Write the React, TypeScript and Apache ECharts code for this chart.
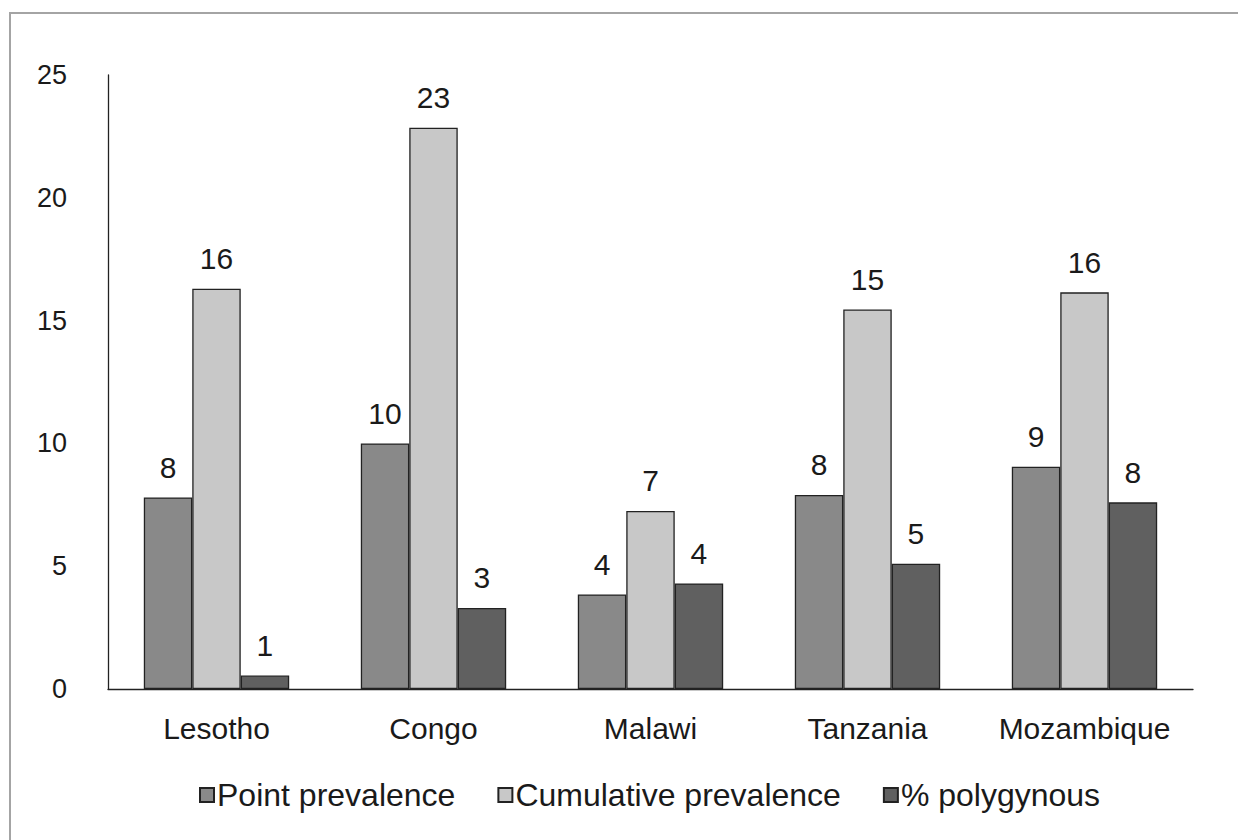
import React, { useEffect, useRef } from "react";
import * as echarts from "echarts";

const categories = ["Lesotho", "Congo", "Malawi", "Tanzania", "Mozambique"];
const pointPrevalence = [7.8, 10.0, 3.85, 7.9, 9.05];
const cumulativePrevalence = [16.3, 22.85, 7.25, 15.45, 16.15];
const polygynous = [0.55, 3.3, 4.3, 5.1, 7.6];
const seriesNames = ["Point prevalence", "Cumulative prevalence", "% polygynous"];
const yTicks = [0, 5, 10, 15, 20, 25];

const FONT = "'Liberation Sans', Arial, sans-serif";
const colors = ["#898989", "#c8c8c8", "#606060"];

export default function App() {
  const ref = useRef<HTMLDivElement>(null);
  useEffect(() => {
    document.body.style.margin = "0";
    const chart = echarts.init(ref.current!, null, { renderer: "svg" });
    const mk = (name: string, data: number[], color: string) => ({
      name,
      type: "bar",
      data,
      barGap: "0%",
      barCategoryGap: "33%",
      itemStyle: { color, borderColor: "#222", borderWidth: 1.3 },
      label: {
        show: true,
        position: "top",
        distance: 15,
        formatter: (p: any) => String(Math.round(p.value)),
        fontFamily: FONT,
        fontSize: 30,
        color: "#1a1a1a",
      },
    });
    chart.setOption({
      animation: false,
      backgroundColor: "#ffffff",
      textStyle: { fontFamily: FONT },
      graphic: [
        {
          type: "rect",
          shape: { x: 10, y: 13, width: 1240, height: 840 },
          style: { fill: "none", stroke: "#a4a4a4", lineWidth: 2 },
          z: -1,
        },
      ],
      grid: { left: 108, right: 45, top: 75, bottom: 151, containLabel: false },
      legend: {
        data: seriesNames,
        bottom: 24,
        left: 194,
        itemWidth: 14,
        itemHeight: 14,
        itemGap: 42,
        icon: "rect",
        textStyle: { fontFamily: FONT, fontSize: 32, color: "#1a1a1a", padding: [0, 0, 0, -2] },
      },
      xAxis: {
        type: "category",
        data: categories,
        axisLine: { lineStyle: { color: "#222", width: 1.3 } },
        axisTick: { show: false },
        axisLabel: { fontFamily: FONT, fontSize: 30, color: "#1a1a1a", margin: 24, interval: 0 },
      },
      yAxis: {
        type: "value",
        min: yTicks[0],
        max: yTicks[yTicks.length - 1],
        interval: 5,
        axisLine: { show: true, lineStyle: { color: "#222", width: 1.3 } },
        axisTick: { show: false },
        splitLine: { show: false },
        axisLabel: { fontFamily: FONT, fontSize: 27, color: "#1a1a1a", margin: 41 },
      },
      series: [
        mk(seriesNames[0], pointPrevalence, colors[0]),
        mk(seriesNames[1], cumulativePrevalence, colors[1]),
        mk(seriesNames[2], polygynous, colors[2]),
      ],
    });
    return () => chart.dispose();
  }, []);
  return <div ref={ref} style={{ width: 1238, height: 840 }} />;
}
